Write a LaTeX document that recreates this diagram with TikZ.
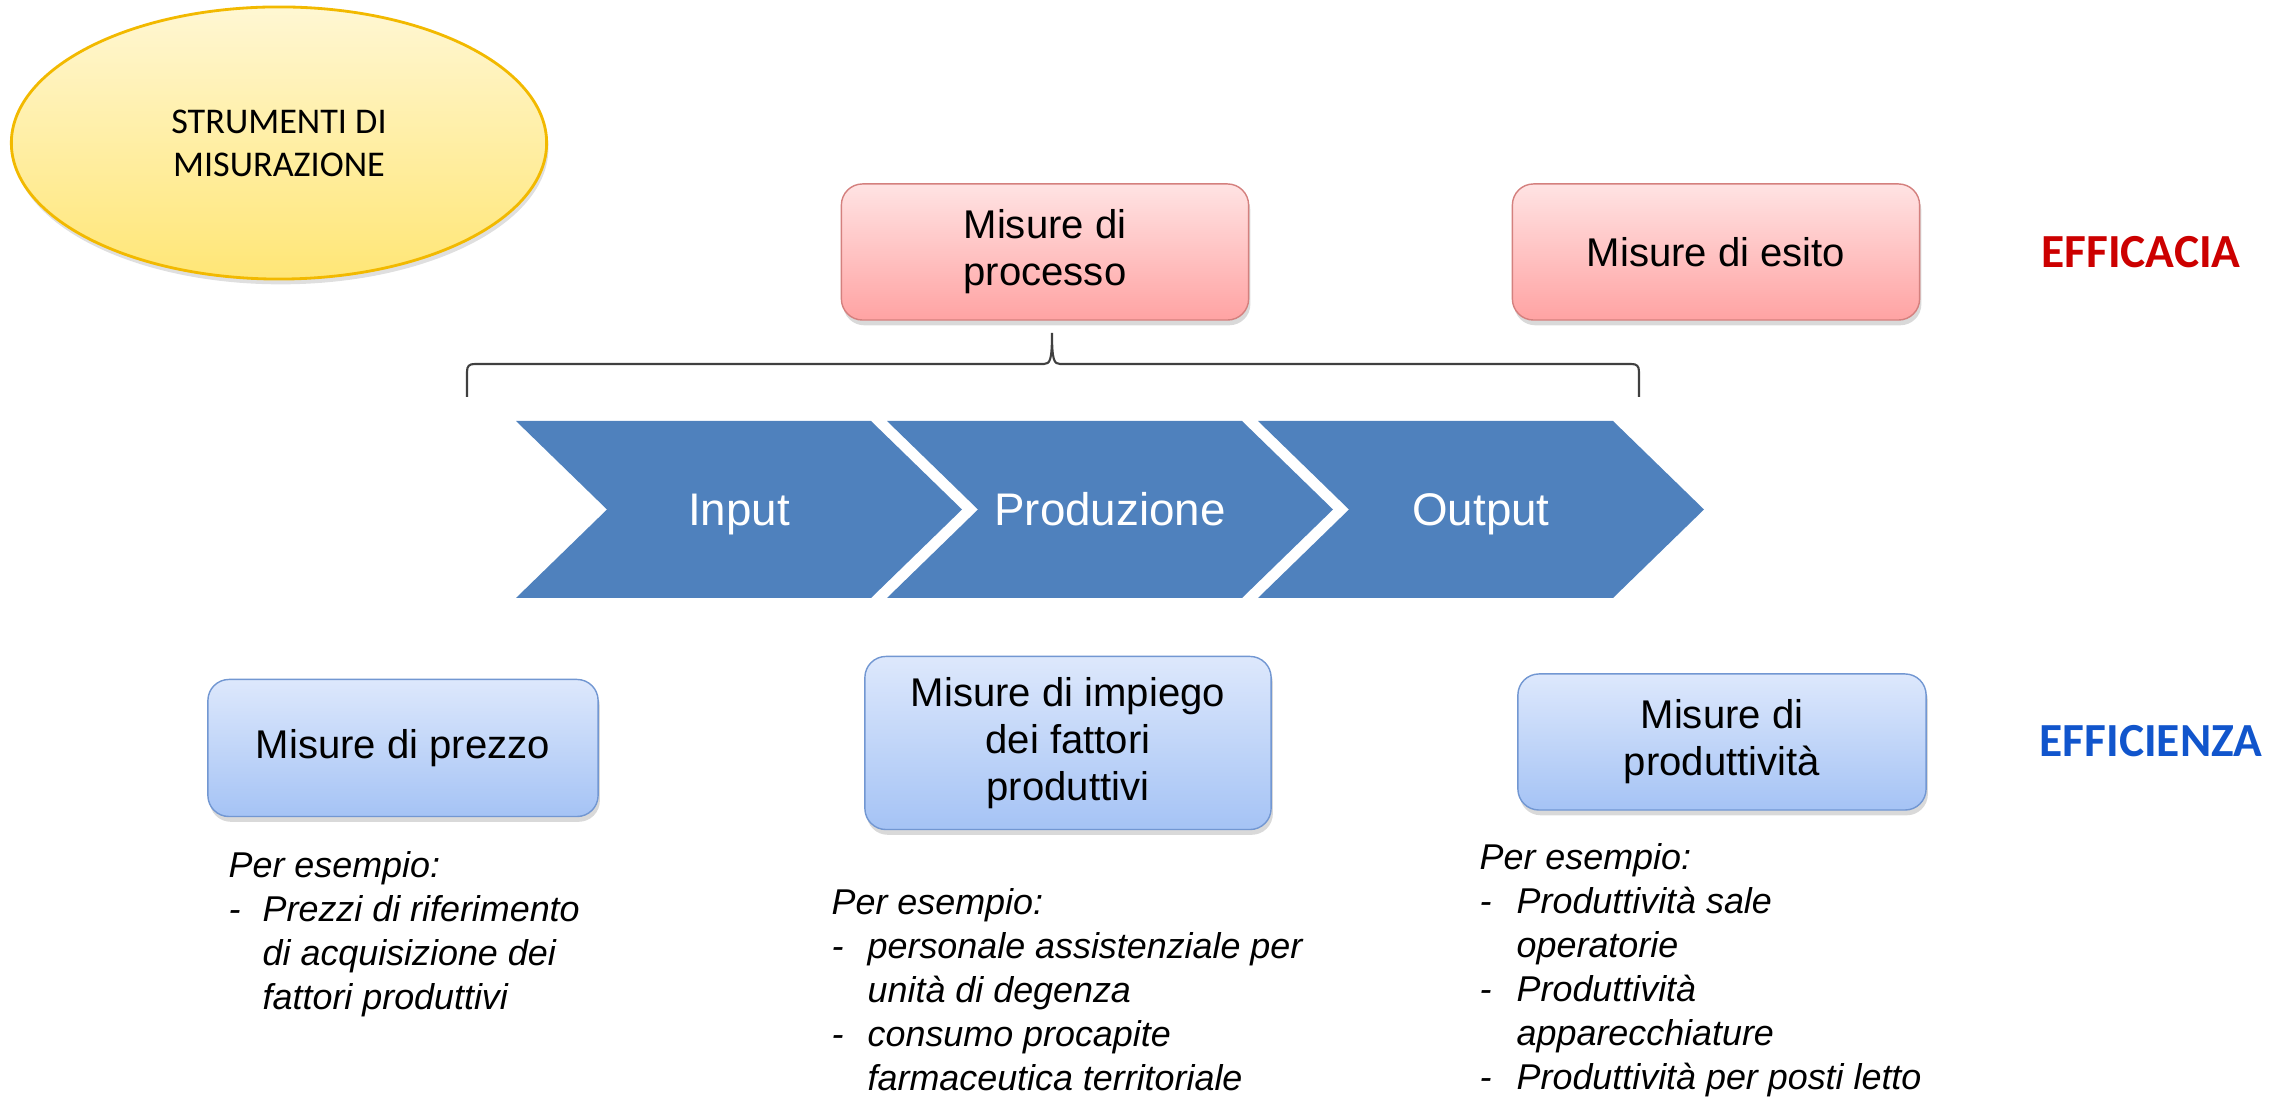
\documentclass[tikz,border=0pt]{standalone}
\usepackage{fontspec}
\setmainfont{Liberation Sans}
\newfontfamily\calibri{Carlito}
\usetikzlibrary{shapes.geometric,shadows}

\definecolor{chevblue}{HTML}{4F81BD}
\definecolor{effred}{HTML}{CC0000}
\definecolor{effblue}{HTML}{1155CC}
\definecolor{redtop}{HTML}{FFE3E3}
\definecolor{redbot}{HTML}{FFA3A3}
\definecolor{redline}{HTML}{D4807E}
\definecolor{bluetop}{HTML}{DDE8FC}
\definecolor{bluebot}{HTML}{A5C3F5}
\definecolor{blueline}{HTML}{7297D2}
\definecolor{elltop}{HTML}{FFF7D3}
\definecolor{ellbot}{HTML}{FFE676}
\definecolor{ellline}{HTML}{F2B900}

\begin{document}
\begin{tikzpicture}[x=0.01cm, y=-0.01cm,
    measurebox/.style={rounded corners=6pt, align=center, font=\fontsize{11.4}{13.4}\selectfont,
      drop shadow={shadow xshift=0.5pt, shadow yshift=-1.5pt, opacity=0.3}},
    redbox/.style={measurebox, draw=redline, top color=redtop, bottom color=redbot,
      minimum width=4.07cm, minimum height=1.36cm},
    bluebox/.style={measurebox, draw=blueline, top color=bluetop, bottom color=bluebot,
      minimum width=4.07cm, minimum height=1.36cm},
    examples/.style={anchor=base west, inner sep=0pt, font=\fontsize{10.2}{12.5}\selectfont\itshape},
    chevtext/.style={anchor=base, text=white, font=\fontsize{13}{15}\selectfont},
    effstyle/.style={font=\calibri\bfseries\fontsize{13.5}{16}\selectfont}
  ]
  \useasboundingbox (0,0) rectangle (2274,1101);

  % ellisse in alto a sinistra
  \node[ellipse, draw=ellline, line width=0.8pt, top color=elltop, bottom color=ellbot,
    minimum width=5.35cm, minimum height=2.72cm, align=center,
    font=\calibri\fontsize{10.3}{12.2}\selectfont,
    drop shadow={shadow xshift=0.5pt, shadow yshift=-1.5pt, opacity=0.25}]
    (strumenti) at (279,143) {STRUMENTI DI\\MISURAZIONE};

  % efficacia
  \node[redbox] (processo) at (1045,252) {Misure di\\processo};
  \node[redbox] (esito) at (1716,252) {Misure di esito};
  \node[effstyle, text=effred] (efficacia) at (2141,252) {EFFICACIA};

  % graffa
  \coordinate (braceL) at (467,397);
  \coordinate (braceT) at (1052,333);
  \coordinate (braceR) at (1639,397);
  \draw[black!75, line width=0.6pt] (braceL) -- (467,372) .. controls (467,366) and (469,364) .. (475,364)
    -- (1044,364) .. controls (1050,364) and (1052,360) .. (braceT)
    .. controls (1052,360) and (1054,364) .. (1060,364)
    -- (1631,364) .. controls (1637,364) and (1639,366) .. (1639,372) -- (braceR);

  % frecce
  \foreach \i/\stage/\name in {0/Input/input, 1/Produzione/produzione, 2/Output/output}{
    \pgfmathsetmacro\L{516+371*\i}
    \fill[chevblue] (\L,421) -- (\L+355,421) -- (\L+446,509.5) -- (\L+355,598)
      -- (\L,598) -- (\L+91,509.5) -- cycle;
    \node[chevtext] (\name) at (\L+223,526) {\stage};
  }

  % efficienza
  \node[bluebox, minimum width=3.90cm, minimum height=1.37cm] (prezzo) at (403,748) {Misure di prezzo};
  \node[bluebox, minimum width=4.06cm, minimum height=1.73cm] (impiego) at (1068,743) {Misure di impiego\\dei fattori\\produttivi};
  \node[bluebox, minimum width=4.08cm] (produttivita) at (1722,742) {Misure di\\produttività};
  \node[effstyle, text=effblue] (efficienza) at (2151,741) {EFFICIENZA};

  % esempi
  \node[examples] (esprezzo) at (228,878) {\begin{tabular}[t]{@{}p{0.34cm}@{}l@{}}
    \multicolumn{2}{@{}l@{}}{Per esempio:}\\
    - & Prezzi di riferimento\\
      & di acquisizione dei\\
      & fattori produttivi
  \end{tabular}};
  \node[examples] (esimpiego) at (831,915) {\begin{tabular}[t]{@{}p{0.36cm}@{}l@{}}
    \multicolumn{2}{@{}l@{}}{Per esempio:}\\
    - & personale assistenziale per\\
      & unità di degenza\\
    - & consumo procapite\\
      & farmaceutica territoriale
  \end{tabular}};
  \node[examples] (esproduttivita) at (1479,870) {\begin{tabular}[t]{@{}p{0.37cm}@{}l@{}}
    \multicolumn{2}{@{}l@{}}{Per esempio:}\\
    - & Produttività sale\\
      & operatorie\\
    - & Produttività\\
      & apparecchiature\\
    - & Produttività per posti letto
  \end{tabular}};
\end{tikzpicture}
\end{document}
